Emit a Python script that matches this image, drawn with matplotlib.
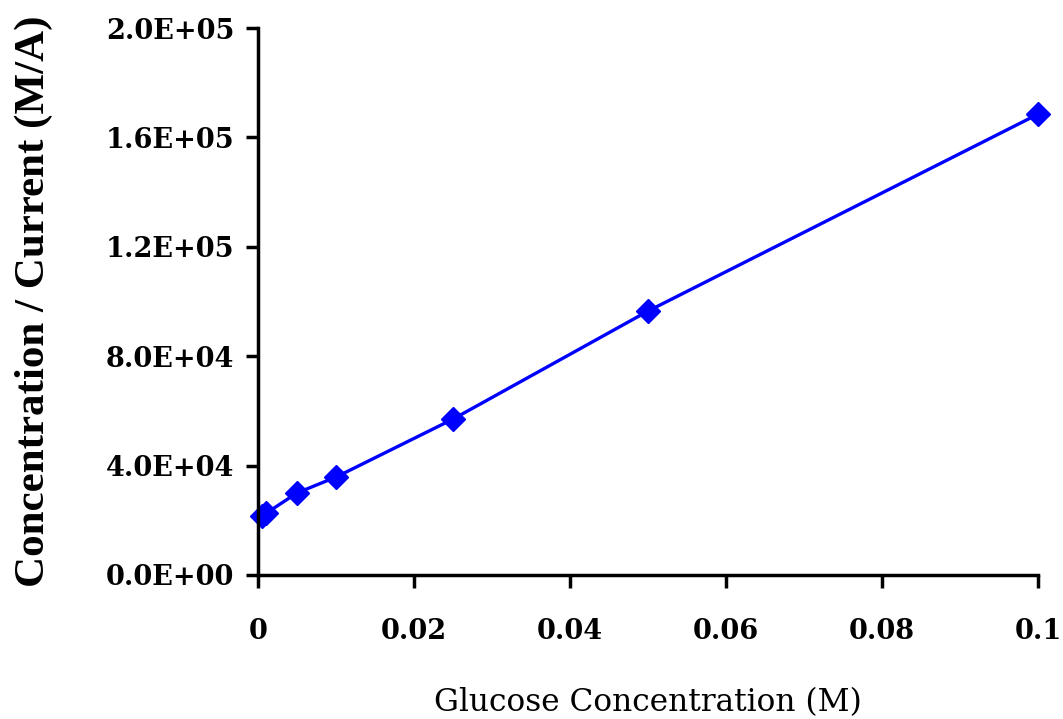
import matplotlib.pyplot as plt
from matplotlib.ticker import FuncFormatter

# glucose concentration (M) vs concentration/current (M/A)
glucose = [0.0005, 0.001, 0.005, 0.01, 0.025, 0.05, 0.1]
conc_per_current = [21500, 22500, 30000, 35800, 57000, 96500, 168500]

xticks = [0, 0.02, 0.04, 0.06, 0.08, 0.1]
xtick_labels = ["0", "0.02", "0.04", "0.06", "0.08", "0.1"]
yticks = [0, 40000, 80000, 120000, 160000, 200000]

fig = plt.figure(figsize=(10.63, 7.19), dpi=100)
ax = fig.add_axes([0.2427, 0.2003, 0.7338, 0.7607])

ax.plot(glucose, conc_per_current, color="#0000ff", lw=2.4,
        marker="D", markersize=12, clip_on=False)

ax.set_xlim(0, 0.1)
ax.set_ylim(0, 200000)
ax.set_xticks(xticks)
ax.set_xticklabels(xtick_labels)
ax.set_yticks(yticks)
ax.yaxis.set_major_formatter(FuncFormatter(lambda v, p: "%.1E" % v))

for s in ["top", "right"]:
    ax.spines[s].set_visible(False)
for s in ["left", "bottom"]:
    ax.spines[s].set_linewidth(2.5)

ax.tick_params(direction="out", length=9, width=2.5)
ax.tick_params(axis="x", pad=22)
ax.tick_params(axis="y", pad=8)
for lab in ax.get_xticklabels() + ax.get_yticklabels():
    lab.set_fontfamily("DejaVu Serif")
    lab.set_fontweight("bold")
    lab.set_fontsize(19.5)

ax.set_xlabel("Glucose Concentration (M)", family="DejaVu Serif",
              fontsize=22.5, labelpad=30)
ax.set_ylabel("Concentration / Current (M/A)", family="Liberation Serif",
              fontweight="bold", fontsize=31, labelpad=38)

fig.savefig("out.png", dpi=100)
